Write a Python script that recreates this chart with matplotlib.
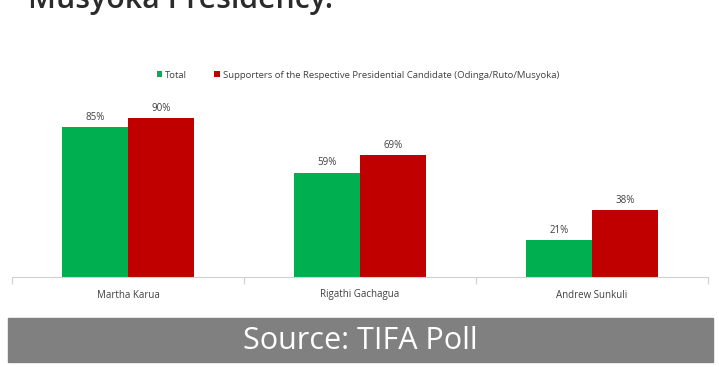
"""Running mate approval chart, TIFA poll."""
import matplotlib

matplotlib.use("Agg")
import matplotlib.pyplot as plt
import numpy as np

candidates = ["Martha Karua", "Rigathi Gachagua", "Andrew Sunkuli"]
total = [85, 59, 21]
supporters = [90, 69, 38]
series_names = [
    "Total",
    "Supporters of the Respective Presidential Candidate (Odinga/Ruto/Musyoka)",
]

GREEN = "#00B050"
RED = "#C00000"
W, H = 719, 367

fig = plt.figure(figsize=(W / 100, H / 100), dpi=100)
fig.patch.set_facecolor("white")

ax = fig.add_axes([12 / W, (H - 277) / H, (708 - 12) / W, (277 - 80) / H])
x = np.arange(len(candidates))
bw = 0.284
b1 = ax.bar(x - bw / 2, total, bw, color=GREEN, label=series_names[0])
b2 = ax.bar(x + bw / 2, supporters, bw, color=RED, label=series_names[1])
for bars in (b1, b2):
    for bar in bars:
        h = bar.get_height()
        ax.text(bar.get_x() + bar.get_width() / 2, h + 2.5, f"{h:.0f}%",
                ha="center", va="bottom", fontsize=7, color="#404040",
                family="Open Sans")

ax.set_xlim(-0.5, 2.5)
ax.set_ylim(0, 111.6)
ax.set_yticks([])
for s in ("top", "right", "left"):
    ax.spines[s].set_visible(False)
ax.spines["bottom"].set_color("#d0d0d0")
ax.set_xticks([-0.5, 0.5, 1.5, 2.5])
ax.set_xticklabels([])
ax.tick_params(axis="x", length=5, color="#d0d0d0")
ax.set_xticks(x, minor=True)
ax.set_xticklabels(candidates, minor=True, fontsize=7, color="#404040",
                   family="Open Sans")
ax.tick_params(axis="x", which="minor", length=0, pad=9)

leg = fig.legend(handles=[b1, b2], loc="center left",
                 bbox_to_anchor=(148 / W, 1 - 75 / H), ncol=2, frameon=False,
                 handlelength=0.6, handleheight=0.6,
                 handletextpad=0.3, columnspacing=2.9,
                 prop={"family": "Open Sans", "size": 6.8})
for t in leg.get_texts():
    t.set_color("#404040")

# cropped title at top, as in the screenshot
fig.text(28 / W, 1 - 8 / H, "Musyoka Presidency.", ha="left", va="baseline",
         fontsize=21.8, color="#2b2b2b", family="Open Sans", fontweight="semibold")

# source banner
fig.patches.append(plt.Rectangle((8 / W, 1 - 362 / H), (713 - 8) / W, 44 / H,
                                 transform=fig.transFigure, color="#808080"))
fig.text(360 / W, 1 - 341 / H, "Source: TIFA Poll", ha="center", va="center",
         fontsize=22, color="white", family="Open Sans")

fig.savefig("out.png", dpi=100)
